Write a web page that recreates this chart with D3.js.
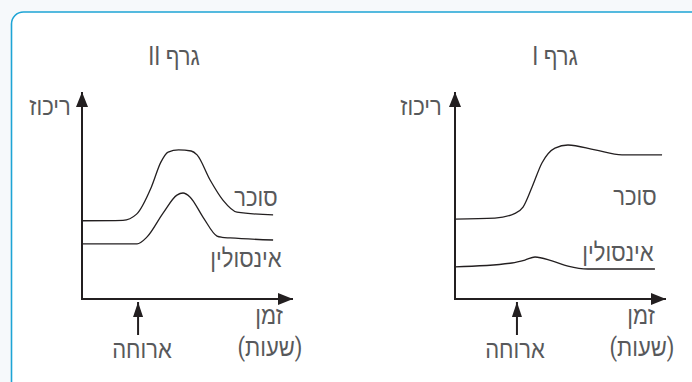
<!DOCTYPE html>
<html>
<head>
<meta charset="utf-8">
<script src="https://cdn.jsdelivr.net/npm/d3@7"></script>
<style>
  html, body { margin: 0; padding: 0; background: #f6f9fb; }
  svg { display: block; }
  text { font-family: Roboto, sans-serif; fill: #58595b; }
</style>
</head>
<body>
<div id="chart"></div>
<script>
// time in arbitrary hours (0-10), concentration in arbitrary units (0-10)
const sugarII = [[0, 3.78], [1.95, 3.8], [2.6, 4.1], [3.3, 5.4], [3.75, 6.6], [4.1, 7.1], [4.6, 7.2],
  [5.2, 7.15], [5.48, 6.96], [6.1, 5.75], [6.71, 4.78], [7.38, 4.2], [9.1, 4.06]];
const insulinII = [[0, 2.66], [2.62, 2.66], [3.1, 3.0], [3.86, 4.15], [4.52, 5.02], [4.81, 5.12],
  [5.14, 4.93], [5.76, 3.96], [6.43, 3.04], [6.67, 2.98], [7.05, 2.95], [9.1, 2.85]];
const sugarI = [[0, 3.86], [1.9, 3.91], [2.86, 4.14], [3.24, 4.44], [3.67, 5.41], [4.14, 6.57],
  [4.76, 7.29], [5.38, 7.44], [6.67, 7.2], [7.95, 6.96], [9.86, 6.96]];
const insulinI = [[0, 1.55], [2.71, 1.74], [3.33, 1.88], [3.81, 2.03], [4.62, 1.84], [5.38, 1.59],
  [6.33, 1.45], [9.52, 1.45]];
const mealTimes = [2.67, 2.95];
const titles = ["גרף II", "גרף I"];

const width = 692, height = 382;
const ink = "#231f20";

const svg = d3.select("#chart").append("svg")
  .attr("width", width).attr("height", height);

// frame: rounded top-left corner, open to the right and bottom
svg.append("path")
  .attr("d", "M11.5,383 V24 A12,12 0 0 1 23.5,12 H693 V383 Z")
  .attr("fill", "#ffffff")
  .attr("stroke", "#1ea4d5")
  .attr("stroke-width", 1.6);

const defs = svg.append("defs");
defs.append("marker")
  .attr("id", "axisHead")
  .attr("markerUnits", "userSpaceOnUse")
  .attr("viewBox", "0 0 15 12")
  .attr("refX", 15).attr("refY", 6)
  .attr("markerWidth", 15).attr("markerHeight", 12)
  .attr("orient", "auto")
  .append("path").attr("d", "M0,0 L15,6 L0,12 Z").attr("fill", ink);
defs.append("marker")
  .attr("id", "mealHead")
  .attr("markerUnits", "userSpaceOnUse")
  .attr("viewBox", "0 0 15 10")
  .attr("refX", 15).attr("refY", 5)
  .attr("markerWidth", 15).attr("markerHeight", 10)
  .attr("orient", "auto")
  .append("path").attr("d", "M0,0 L15,5 L0,10 Z").attr("fill", ink);

var y = d3.scaleLinear().domain([0, 10]).range([299, 92]);

var graphs = [
  { left: 82, sugar: sugarII, insulin: insulinII, meal: mealTimes[0], title: titles[0],
    lab: { title: 92, conc: -32, sugar: 174, sugarY: 206, insulin: 164, insulinY: 267, time: 187, meal: 60 } },
  { left: 455, sugar: sugarI, insulin: insulinI, meal: mealTimes[1], title: titles[1],
    lab: { title: 100, conc: -34, sugar: 180, sugarY: 205, insulin: 163, insulinY: 261, time: 186, meal: 60 } }
];

graphs.forEach(function (g) {
  var x = d3.scaleLinear().domain([0, 10]).range([g.left, g.left + 210]);
  var grp = svg.append("g");

  var line = d3.line()
    .x(d => x(d[0]))
    .y(d => y(d[1]))
    .curve(d3.curveMonotoneX);

  [g.sugar, g.insulin].forEach(function (s) {
    grp.append("path")
      .attr("d", line(s))
      .attr("fill", "none")
      .attr("stroke", ink)
      .attr("stroke-width", 1.3);
  });

  // axes with arrow heads
  grp.append("line")
    .attr("x1", x(0)).attr("y1", y(0))
    .attr("x2", x(0)).attr("y2", y(10))
    .attr("stroke", ink).attr("stroke-width", 2)
    .attr("marker-end", "url(#axisHead)");
  grp.append("line")
    .attr("x1", x(0) - 1).attr("y1", y(0))
    .attr("x2", x(10) + 1).attr("y2", y(0))
    .attr("stroke", ink).attr("stroke-width", 2)
    .attr("marker-end", "url(#axisHead)");

  // meal arrow
  grp.append("line")
    .attr("x1", x(g.meal)).attr("y1", y(0) + 36)
    .attr("x2", x(g.meal)).attr("y2", y(0) + 3)
    .attr("stroke", ink).attr("stroke-width", 2)
    .attr("marker-end", "url(#mealHead)");

  // labels: the hebrew face is a bit wide, squeeze it horizontally
  function label(txt, dx, by) {
    grp.append("text")
      .attr("transform", "translate(" + (g.left + dx) + "," + by + ") scale(0.88,1)")
      .attr("text-anchor", "middle")
      .attr("direction", "rtl")
      .style("font-size", "25px")
      .text(txt);
  }
  label(g.title, g.lab.title, 65);
  label("ריכוז", g.lab.conc, 115);
  label("סוכר", g.lab.sugar, g.lab.sugarY);
  label("אינסולין", g.lab.insulin, g.lab.insulinY);
  label("זמן", g.lab.time, 324);
  label("(שעות)", g.lab.time + 1, 356);
  label("ארוחה", g.lab.meal, 358);
});
</script>
</body>
</html>
